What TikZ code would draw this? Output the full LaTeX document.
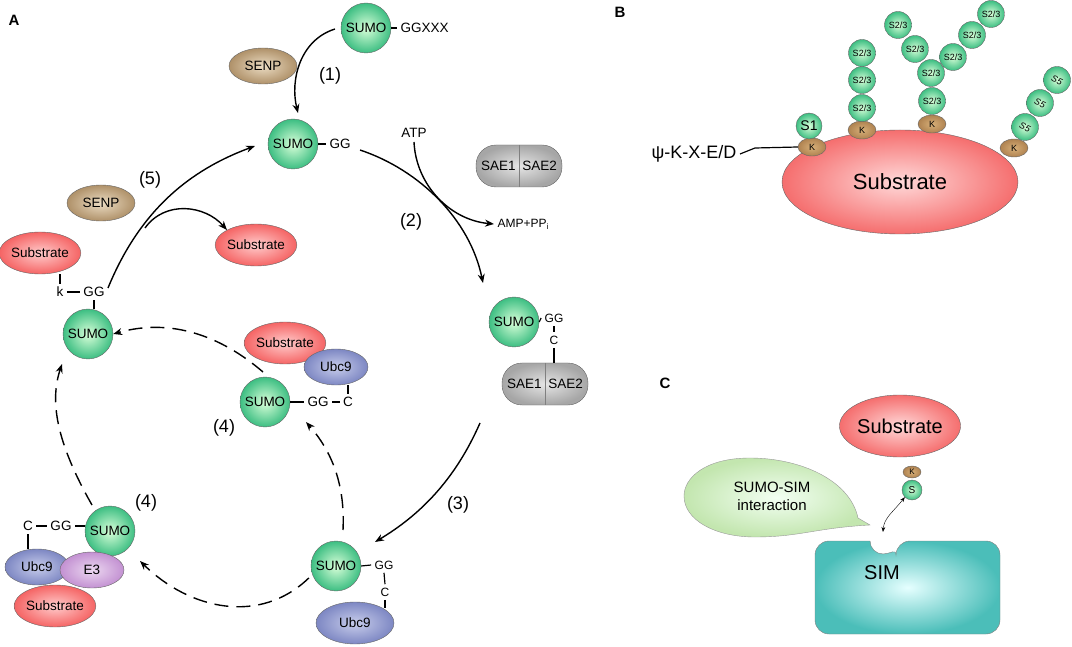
\documentclass[tikz,border=0pt]{standalone}
\usepackage{fontspec}
\setmainfont{Liberation Sans}
\usetikzlibrary{arrows.meta,shapes.geometric,calc}
\begin{document}
\begin{tikzpicture}[x=1pt,y=-1pt,
  every node/.style={font=\fontsize{13.5}{16}\selectfont},
  sumo/.style={circle,draw=black!60,thin,minimum size=50pt,inner sep=0pt,inner color=green!15!white,outer color={rgb,255:red,60;green,190;blue,130}},
  sm/.style={sumo,minimum size=27pt,font=\fontsize{9}{10}\selectfont},
  ell/.style={ellipse,draw=black!60,thin,inner sep=0pt},
  subs/.style={ell,minimum width=78pt,minimum height=42pt,inner color=red!20!white,outer color={rgb,255:red,245;green,100;blue,100}},
  senp/.style={ell,minimum width=68pt,minimum height=36pt,inner color={rgb,255:red,235;green,220;blue,195},outer color={rgb,255:red,175;green,145;blue,105}},
  ubc/.style={ell,minimum width=64pt,minimum height=36pt,inner color={rgb,255:red,200;green,205;blue,235},outer color={rgb,255:red,125;green,135;blue,195}},
  ethree/.style={ell,minimum width=64pt,minimum height=36pt,inner color={rgb,255:red,235;green,215;blue,240},outer color={rgb,255:red,195;green,145;blue,210}},
  kk/.style={ell,minimum width=28pt,minimum height=18pt,inner color={rgb,255:red,215;green,175;blue,120},outer color={rgb,255:red,175;green,130;blue,80},font=\fontsize{9}{10}\selectfont},
  arr/.style={-{Stealth[length=9pt,width=7pt]},line width=1.4pt},
  darr/.style={arr,dash pattern=on 14pt off 8pt},
  lbl/.style={font=\fontsize{18}{20}\selectfont},
  lt/.style={line width=1.2pt}
]
\useasboundingbox (0,0) rectangle (1072,647);
% labels
\node[font=\bfseries\fontsize{15}{17}\selectfont] (LA) at (14,20) {A};
\node[font=\bfseries\fontsize{15}{17}\selectfont] (LB) at (620,12) {B};
\node[font=\bfseries\fontsize{15}{17}\selectfont] (LC) at (665,383) {C};
% ---------- A ----------
\node[sumo] (s0) at (366,28) {SUMO};
\node[anchor=west] (gx) at (397,28) {GGXXX};
\draw[lt] (s0.east) -- (gx.west);
\node[senp] (senp1) at (263,66) {SENP};
\node[lbl] (l1) at (330,76) {(1)};
\node[sumo] (s1) at (293,144) {SUMO};
\node (gg1) at (340,144) {GG};
\draw[lt] (s1.east) -- (gg1.west);
\coordinate (a1s) at (335,29);
\draw[arr] (a1s) .. controls (300,40) and (290,80) .. (298,113);
\node (atp) at (414,133) {ATP};
\node[draw=black!60,thin,rounded corners=20pt,minimum width=86pt,minimum height=42pt,inner color=white!90!black,outer color=black!35] (sae1) at (519,166) {SAE1\,\,\,SAE2};
\draw[black!50] (sae1.north) -- (sae1.south);
\coordinate (a2s) at (360,150);
\coordinate (a2e) at (483,283);
\draw[arr] (a2s) .. controls (420,170) and (470,220) .. (a2e);
\coordinate (atps) at (414,142);
\node[anchor=west,font=\fontsize{12}{14}\selectfont] (amp) at (494,224) {AMP+PP$_\mathrm{i}$};
\draw[arr] (atps) .. controls (416,185) and (450,220) .. (amp.west);
\node[lbl] (l2) at (411,222) {(2)};
% second intermediate
\node[sumo] (s2) at (514,322) {SUMO};
\node[font=\fontsize{12}{14}\selectfont] (gg2) at (554,318) {GG};
\node[font=\fontsize{12}{14}\selectfont] (c2) at (554,340) {C};
\draw[lt] (s2.east) -- (gg2.west);
\draw[lt] (gg2.south) -- (c2.north);
\node[draw=black!60,thin,rounded corners=20pt,minimum width=86pt,minimum height=42pt,inner color=white!90!black,outer color=black!35] (sae2) at (545,384) {SAE1\,\,\,SAE2};
\draw[black!50] (sae2.north) -- (sae2.south);
\draw[lt] (c2.south) -- (c2.south|-sae2.north);
\coordinate (a3s) at (480,423);
\draw[arr] (a3s) .. controls (455,480) and (420,515) .. (375,542);
\node[lbl] (l3) at (458,505) {(3)};
% bottom intermediate
\node[sumo] (s3) at (336,566) {SUMO};
\node[font=\fontsize{12}{14}\selectfont] (gg3) at (384,565) {GG};
\node[font=\fontsize{12}{14}\selectfont] (c3) at (385,592) {C};
\draw[lt] (s3.east) -- (gg3.west);
\draw[lt] (gg3.south) -- (c3.north);
\node[ubc,minimum width=78pt,minimum height=42pt] (u3) at (355,623) {Ubc9};
\draw[lt] (c3.south) -- (c3.south|-u3.north east);
\draw[darr] (s3.west) ++(-2,12) .. controls (260,625) and (190,610) .. (140,561);
% bottom-left complex
\node[sumo] (s4) at (110,531) {SUMO};
\node (gg4) at (61,526) {GG};
\node (c4) at (28,526) {C};
\draw[lt] (gg4.east) -- (s4.west|-gg4.east);
\draw[lt] (c4.east) -- (gg4.west);
\node[ubc] (u4) at (37,567) {Ubc9};
\node[ethree] (e4) at (92,570) {E3};
\draw[lt] (c4.south) -- (c4.south|-u4.north);
\node[subs] (sb4) at (55,606) {Substrate};
\node[lbl] (l4a) at (146,503) {(4)};
\draw[darr] (92,505) .. controls (55,440) and (50,400) .. (62,364);
% left SUMO
\node[sumo] (s5) at (88,334) {SUMO};
\node (k5) at (60,292) {k};
\node (gg5) at (94,292) {GG};
\draw[lt] (k5.east) -- (gg5.west);
\draw[lt] (gg5.south) -- (gg5.south|-s5.north);
\node[subs] (sb5) at (40,253) {Substrate};
\draw[lt] (k5.north) -- (k5.north|-sb5.south);
% middle complex
\node[subs] (sb6) at (285,343) {Substrate};
\node[ubc] (u6) at (336,367) {Ubc9};
\node[sumo] (s6) at (265,402) {SUMO};
\node (gg6) at (318,402) {GG};
\node (c6) at (348,402) {C};
\draw[lt] (s6.east) -- (gg6.west);
\draw[lt] (gg6.east) -- (c6.west);
\draw[lt] (c6.north) -- (u6.south-|c6.north);
\node[lbl] (l4b) at (224,428) {(4)};
\draw[darr] (263,372) .. controls (220,335) and (170,318) .. (s5.east);
\draw[darr] (343,530) .. controls (345,490) and (335,455) .. (306,422);
% step 5
\node[lbl] (l5) at (150,180) {(5)};
\node[senp] (senp2) at (101,203) {SENP};
\node[subs] (sb7) at (256,245) {Substrate};
\coordinate (a5s) at (108,288);
\draw[arr] (a5s) .. controls (140,210) and (190,170) .. (255,146);
\draw[arr] (145,228) .. controls (165,200) and (205,205) .. (sb7.north west);
% ---------- B ----------
\node[ell,minimum width=236pt,minimum height=104pt,inner color=red!15!white,outer color={rgb,255:red,245;green,110;blue,110},font=\fontsize{22}{26}\selectfont] (bs) at (900,182) {Substrate};
\node[kk] (k1) at (812,147) {K};
\node[kk] (k2) at (862,130) {K};
\node[kk] (k3) at (932,124) {K};
\node[kk] (k4) at (1014,148) {K};
\node[sumo,minimum size=26pt,font=\fontsize{14}{16}\selectfont] (b1) at (809,126) {S1};
\node[sm] (c21) at (862,108) {S2/3};
\node[sm] (c22) at (862,80) {S2/3};
\node[sm] (c23) at (862,53) {S2/3};
\node[sm] (m1) at (932,101) {S2/3};
\node[sm] (m2) at (931,73) {S2/3};
\node[sm] (m3) at (915,49) {S2/3};
\node[sm] (m4) at (898,25) {S2/3};
\node[sm] (m5) at (953,57) {S2/3};
\node[sm] (m6) at (972,35) {S2/3};
\node[sm] (m7) at (991,14) {S2/3};
\node[sm,font=\itshape\fontsize{9}{10}\selectfont] (f1) at (1025,127) {\rotatebox{-25}{S5}};
\node[sm,font=\itshape\fontsize{9}{10}\selectfont] (f2) at (1040,103) {\rotatebox{-25}{S5}};
\node[sm,font=\itshape\fontsize{9}{10}\selectfont] (f3) at (1057,80) {\rotatebox{-25}{S5}};
\node[anchor=east,font=\fontsize{18}{21}\selectfont] (psi) at (740,154) {ψ-K-X-E/D};
\draw[lt] (psi.east) -- (755,148) -- (k1.west);
% ---------- C ----------
\node[ell,minimum width=116pt,minimum height=62pt,inner color=red!15!white,outer color={rgb,255:red,245;green,110;blue,110},font=\fontsize{20}{24}\selectfont] (cs) at (900,426) {Substrate};
\node[kk,minimum width=18pt,minimum height=12pt,font=\fontsize{8}{9}\selectfont] (ck) at (912,472) {K};
\node[sumo,minimum size=20pt,font=\fontsize{10}{11}\selectfont] (csu) at (912,490) {S};
\path[draw=black!50,thin,inner color=cyan!10!white,outer color={rgb,255:red,75;green,190;blue,185},rounded corners=14pt]
  (870,541) -- (815,541) -- (815,634) -- (1000,634) -- (1000,541) -- (896,541) [sharp corners] arc[start angle=0,end angle=180,radius=13] -- cycle;
\node[font=\fontsize{20}{24}\selectfont] (sim) at (882,573) {SIM};
\path[draw=black!40,thin,inner color=green!5!white,outer color={rgb,255:red,195;green,230;blue,175}]
  (858,518) .. controls (850,480) and (800,458) .. (750,458) .. controls (705,458) and (684,478) .. (684,496)
  .. controls (684,520) and (715,537) .. (755,537) .. controls (800,537) and (815,528) .. (870,525) -- cycle;
\node[align=center,font=\fontsize{15}{18}\selectfont] (bub) at (772,496) {SUMO-SIM\\interaction};
\draw[{Stealth[length=5pt]}-{Stealth[length=5pt]},thin] (883,532) .. controls (884,518) and (893,512) .. (csu.south west);
\end{tikzpicture}
\end{document}
